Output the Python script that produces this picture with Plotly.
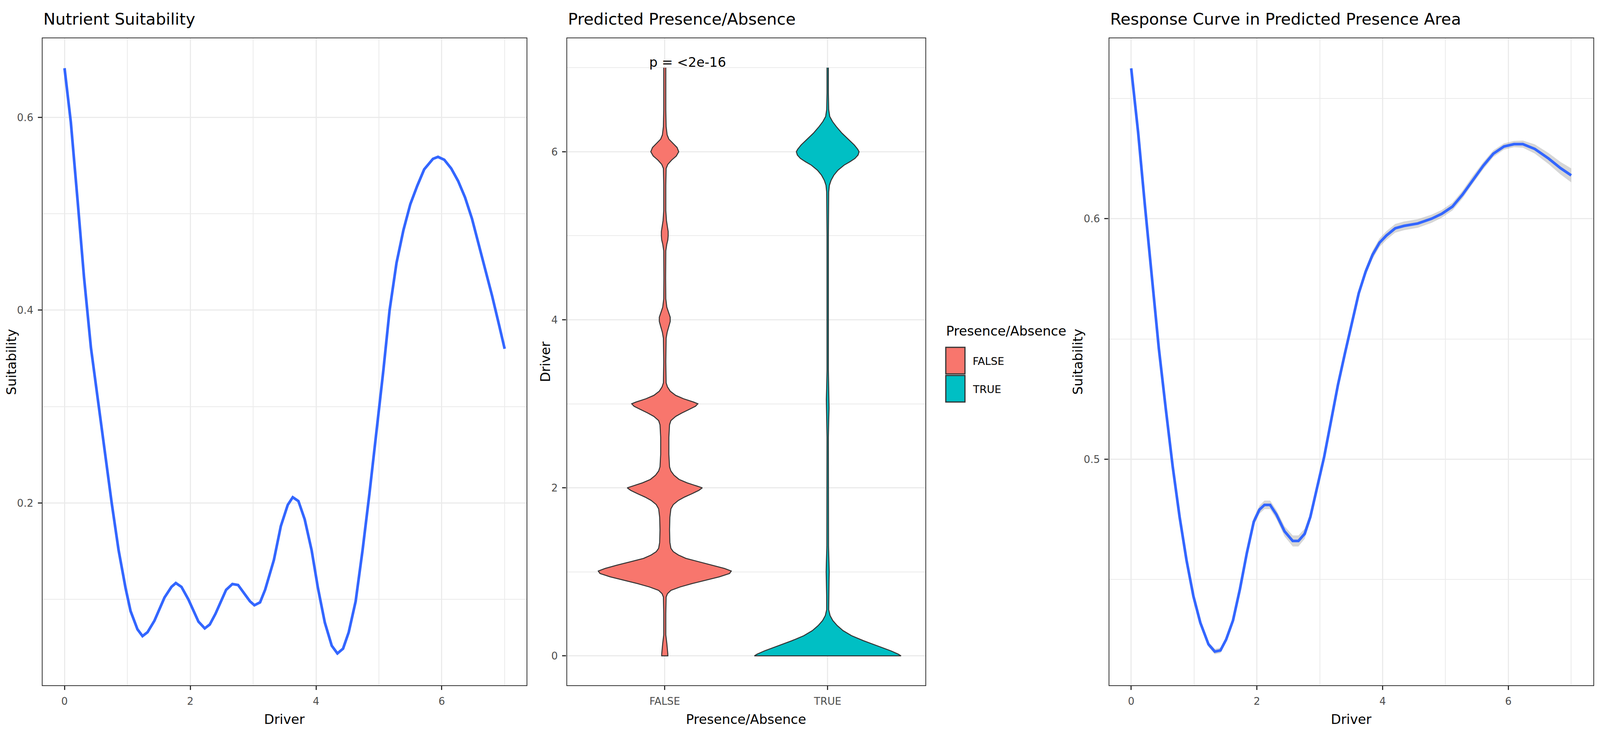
import plotly.graph_objects as go

# layout is laid out on a 5669x1889 reference grid and placed in paper fractions;
# the browser window is narrower (4096 px), so sizes are scaled down to fit
W, H = 5669, 1889
KT = 0.75   # text scale
KL = 0.85   # line scale

# ---- panel 1: Nutrient Suitability ----
driver1 = [0, 0.1, 0.21, 0.31, 0.42, 0.53, 0.64, 0.75, 0.86, 0.97, 1.05, 1.16, 1.24, 1.32,
           1.43, 1.59, 1.70, 1.77, 1.86, 1.97, 2.13, 2.23, 2.31, 2.40, 2.57, 2.67, 2.76,
           2.87, 2.95, 3.02, 3.11, 3.19, 3.33, 3.44, 3.55, 3.63, 3.72, 3.82, 3.93, 4.03,
           4.14, 4.25, 4.34, 4.43, 4.52, 4.63, 4.74, 4.85, 4.96, 5.07, 5.17, 5.28, 5.39,
           5.50, 5.61, 5.72, 5.86, 5.94, 6.04, 6.15, 6.26, 6.37, 6.48, 6.59, 6.70, 6.80,
           6.91, 7.0]
suit1 = [0.651, 0.595, 0.512, 0.434, 0.361, 0.307, 0.254, 0.200, 0.151, 0.112, 0.088, 0.069,
         0.062, 0.066, 0.078, 0.102, 0.113, 0.117, 0.113, 0.100, 0.077, 0.070, 0.074, 0.085,
         0.110, 0.116, 0.115, 0.105, 0.098, 0.094, 0.097, 0.110, 0.141, 0.176, 0.198, 0.206,
         0.202, 0.183, 0.151, 0.112, 0.076, 0.052, 0.044, 0.049, 0.066, 0.098, 0.151, 0.210,
         0.273, 0.337, 0.400, 0.449, 0.483, 0.510, 0.529, 0.546, 0.557, 0.559, 0.556, 0.547,
         0.534, 0.517, 0.495, 0.468, 0.441, 0.415, 0.385, 0.360]

# ---- panel 2: violin density profiles (relative density) ----
groups = ["FALSE", "TRUE"]
false_y = [7.00, 6.80, 6.50, 6.30, 6.20, 6.15, 6.10, 6.05, 6.00, 5.95, 5.90, 5.85, 5.80, 5.60,
           5.30, 5.18, 5.10, 5.05, 5.00, 4.95, 4.90, 4.82, 4.50, 4.25, 4.15, 4.08, 4.03, 3.98,
           3.92, 3.85, 3.78, 3.50, 3.25, 3.20, 3.15, 3.10, 3.06, 3.02, 3.00, 2.97, 2.93, 2.89,
           2.85, 2.80, 2.75, 2.60, 2.40, 2.25, 2.20, 2.15, 2.10, 2.06, 2.02, 2.00, 1.97, 1.93,
           1.89, 1.85, 1.80, 1.75, 1.65, 1.50, 1.35, 1.28, 1.24, 1.20, 1.16, 1.12, 1.08, 1.04,
           1.01, 0.98, 0.94, 0.90, 0.86, 0.82, 0.78, 0.74, 0.70, 0.50, 0.25, 0.15, 0.08, 0.02,
           0.00]
false_dens = [3, 3, 3, 4, 7, 12, 24, 36, 41, 34, 20, 9, 4, 3,
              3, 5, 8, 10, 10, 9, 6, 3, 2.5, 3, 6, 12, 16, 16,
              12, 7, 4, 3, 4, 8, 16, 32, 55, 85, 97, 90, 70, 50,
              32, 18, 14, 12, 12, 14, 18, 27, 42, 65, 95, 110, 100, 80,
              58, 40, 25, 18, 15, 14, 15, 18, 25, 40, 62, 100, 140, 175,
              195, 190, 160, 120, 80, 45, 18, 8, 4, 3, 3, 6, 8, 9,
              9]
true_y = [7.00, 6.70, 6.50, 6.42, 6.36, 6.30, 6.22, 6.15, 6.08, 6.03, 6.00, 5.96, 5.92, 5.88,
          5.84, 5.78, 5.72, 5.66, 5.60, 5.52, 5.00, 3.40, 3.20, 3.05, 2.95, 2.80, 2.60, 1.30,
          1.10, 1.00, 0.90, 0.70, 0.55, 0.48, 0.42, 0.36, 0.30, 0.24, 0.18, 0.12, 0.06, 0.02,
          0.00]
true_dens = [2, 2, 3, 6, 14, 25, 42, 60, 78, 88, 92, 89, 80, 65,
             48, 30, 18, 10, 5, 3, 2, 2, 3, 4, 4, 3, 2, 2.5,
             4, 4.5, 4, 3, 3, 7, 15, 28, 45, 70, 105, 145, 185, 207,
             215]
p_label = "p = <2e-16"

# ---- panel 3: Response curve in predicted presence area ----
driver3 = [0, 0.11, 0.22, 0.33, 0.44, 0.55, 0.66, 0.77, 0.88, 0.99, 1.10, 1.23, 1.33, 1.42,
           1.51, 1.62, 1.73, 1.84, 1.95, 2.04, 2.12, 2.21, 2.31, 2.44, 2.57, 2.66, 2.76, 2.85,
           2.96, 3.07, 3.18, 3.29, 3.40, 3.51, 3.62, 3.73, 3.84, 3.95, 4.06, 4.20, 4.34, 4.56,
           4.78, 4.94, 5.11, 5.27, 5.43, 5.60, 5.76, 5.93, 6.09, 6.23, 6.42, 6.64, 6.83, 7.0]
suit3 = [0.6625, 0.636, 0.605, 0.576, 0.546, 0.521, 0.497, 0.476, 0.458, 0.443, 0.432, 0.423,
         0.420, 0.4205, 0.425, 0.433, 0.446, 0.461, 0.474, 0.479, 0.481, 0.481, 0.477, 0.470,
         0.466, 0.466, 0.469, 0.476, 0.488, 0.501, 0.516, 0.531, 0.544, 0.557, 0.569, 0.578,
         0.585, 0.590, 0.593, 0.596, 0.597, 0.598, 0.600, 0.602, 0.605, 0.610, 0.616, 0.622,
         0.627, 0.630, 0.631, 0.631, 0.629, 0.625, 0.621, 0.618]
se3 = [0.0006, 0.0006, 0.0006, 0.0006, 0.0006, 0.0006, 0.0007, 0.0007, 0.0008, 0.0008, 0.0009,
       0.0010, 0.0011, 0.0011, 0.0011, 0.0012, 0.0013, 0.0015, 0.0016, 0.0017, 0.0018, 0.0018,
       0.0019, 0.0021, 0.0023, 0.0023, 0.0021, 0.0017, 0.0013, 0.0012, 0.0012, 0.0012, 0.0013,
       0.0014, 0.0015, 0.0016, 0.0017, 0.0018, 0.0018, 0.0018, 0.0018, 0.0018, 0.0017, 0.0016,
       0.0016, 0.0016, 0.0016, 0.0015, 0.0014, 0.0013, 0.0013, 0.0015, 0.0019, 0.0023, 0.0026,
       0.0029]

FONT = "DejaVu Sans"
BLUE = "#3366FF"
DARK = "#333333"
GRID = "#EBEBEB"
fills = {"FALSE": "#F8766D", "TRUE": "#00BFC4"}

F_TITLE, F_AXIS, F_TICK, F_LEG = 55 * KT, 45 * KT, 35 * KT, 36 * KT


def px(x):
    return x / W


def py(y):
    return 1 - y / H


def mid(baseline, size):
    # centre of a text box whose baseline sits at `baseline`
    return baseline - 0.346 * size


fig = go.Figure()

# panel 1 line
fig.add_trace(go.Scatter(x=driver1, y=suit1, mode="lines", line=dict(color=BLUE, width=8 * KL),
                         xaxis="x", yaxis="y", showlegend=False))

# panel 2 violins, ggplot scale="area": widest density gets half-width 0.45
dmax = max(max(false_dens), max(true_dens))
for i, (g, ys, ds) in enumerate([("FALSE", false_y, false_dens), ("TRUE", true_y, true_dens)]):
    c = i + 1
    half = [0.45 * d / dmax for d in ds]
    xs = [c + h for h in half] + [c - h for h in half[::-1]]
    yy = ys + ys[::-1]
    fig.add_trace(go.Scatter(x=xs, y=yy, mode="lines", fill="toself", fillcolor=fills[g],
                             line=dict(color=DARK, width=3 * KL), xaxis="x2", yaxis="y2",
                             showlegend=False))

# panel 3 ribbon + line
upper = [v + e for v, e in zip(suit3, se3)]
lower = [v - e for v, e in zip(suit3, se3)]
fig.add_trace(go.Scatter(x=driver3, y=upper, mode="lines", line=dict(width=0),
                         xaxis="x3", yaxis="y3", showlegend=False))
fig.add_trace(go.Scatter(x=driver3, y=lower, mode="lines", line=dict(width=0), fill="tonexty",
                         fillcolor="rgba(153,153,153,0.4)", xaxis="x3", yaxis="y3",
                         showlegend=False))
fig.add_trace(go.Scatter(x=driver3, y=suit3, mode="lines", line=dict(color=BLUE, width=8 * KL),
                         xaxis="x3", yaxis="y3", showlegend=False))

ydom = [py(1754), py(98)]
axis_common = dict(showline=True, mirror=True, linecolor=DARK, linewidth=2.5 * KL,
                   ticks="outside", ticklen=12 * KL, tickwidth=3.5 * KL, tickcolor=DARK,
                   tickfont=dict(family=FONT, size=F_TICK, color="#4D4D4D"),
                   showgrid=True, gridcolor=GRID, gridwidth=3.5 * KL, zeroline=False,
                   automargin=False, ticklabelstandoff=6)
minor = dict(showgrid=True, tick0=0, gridcolor=GRID, gridwidth=2 * KL)

fig.update_layout(
    autosize=True, margin=dict(l=0, r=0, t=0, b=0),
    paper_bgcolor="white", plot_bgcolor="white",
    font=dict(family=FONT),
    xaxis=dict(domain=[px(150.7), px(1866)], range=[-0.35, 7.35], tick0=0, dtick=2,
               minor=dict(dtick=1, **minor), anchor="y", **axis_common),
    yaxis=dict(domain=ydom, range=[0.011, 0.682], tick0=0, dtick=0.2,
               minor=dict(dtick=0.1, **minor), anchor="x", **axis_common),
    xaxis2=dict(domain=[px(2009), px(3279)], range=[0.4, 2.6], tickvals=[1, 2],
                ticktext=groups, anchor="y2", **axis_common),
    yaxis2=dict(domain=ydom, range=[-0.35, 7.35], tick0=0, dtick=2,
                minor=dict(dtick=1, **minor), anchor="x2", **axis_common),
    xaxis3=dict(domain=[px(3930), px(5645)], range=[-0.35, 7.35], tick0=0, dtick=2,
                minor=dict(dtick=1, **minor), anchor="y3", **axis_common),
    yaxis3=dict(domain=ydom, range=[0.406, 0.675], tick0=0, dtick=0.1,
                minor=dict(dtick=0.05, **minor), anchor="x3", **axis_common),
)

ann = []
# panel titles
for txt, x0 in [("Nutrient Suitability", 150.7), ("Predicted Presence/Absence", 2009),
                ("Response Curve in Predicted Presence Area", 3930)]:
    ann.append(dict(text=txt, x=px(x0), y=py(mid(63, F_TITLE)), xref="paper", yref="paper",
                    xanchor="left", yanchor="middle", showarrow=False,
                    font=dict(family=FONT, size=F_TITLE, color="black")))
# x axis titles
for txt, xc in [("Driver", 1008), ("Presence/Absence", 2644), ("Driver", 4787)]:
    ann.append(dict(text=txt, x=px(xc), y=py(mid(1853, F_AXIS)), xref="paper", yref="paper",
                    xanchor="center", yanchor="middle", showarrow=False,
                    font=dict(family=FONT, size=F_AXIS, color="black")))
# y axis titles
for txt, xc in [("Suitability", 40), ("Driver", 1932), ("Suitability", 3819)]:
    ann.append(dict(text=txt, x=px(xc), y=py(926), xref="paper", yref="paper",
                    xanchor="center", yanchor="middle", textangle=-90, showarrow=False,
                    font=dict(family=FONT, size=F_AXIS, color="black")))
# p-value label
ann.append(dict(text=p_label, x=1.14, y=7, xref="x2", yref="y2", xanchor="center",
                yanchor="bottom", yshift=-8, showarrow=False,
                font=dict(family=FONT, size=F_AXIS, color="black")))
# legend, drawn by hand to match ggplot's key boxes
ann.append(dict(text="Presence/Absence", x=px(3349), y=py(mid(859, F_AXIS)), xref="paper",
                yref="paper", xanchor="left", yanchor="middle", showarrow=False,
                font=dict(family=FONT, size=F_AXIS, color="black")))
shapes = []
for i, g in enumerate(groups):
    y0 = 888 + i * 72
    shapes.append(dict(type="rect", xref="paper", yref="paper", x0=px(3351), x1=px(3419),
                       y0=py(y0 + 69), y1=py(y0 + 1), fillcolor=fills[g],
                       line=dict(color=DARK, width=3.5 * KL)))
    ann.append(dict(text=g, x=px(3444), y=py(y0 + 36), xref="paper", yref="paper",
                    xanchor="left", yanchor="middle", showarrow=False,
                    font=dict(family=FONT, size=F_LEG, color="black")))

fig.update_layout(annotations=ann, shapes=shapes)

# fill the browser window exactly
fig.write_html("out.html", default_width="100%", default_height="100vh",
               config={"responsive": True, "displayModeBar": False},
               post_script="document.body.style.margin='0';"
                           "document.body.style.overflow='hidden';"
                           "Plotly.Plots.resize(document.getElementById('{plot_id}'));")
